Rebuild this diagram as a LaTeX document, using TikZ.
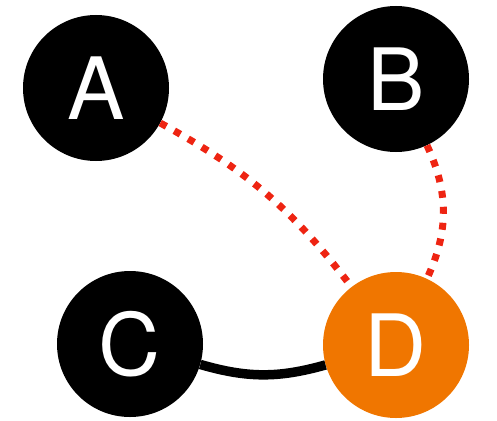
\documentclass[tikz,border=0pt]{standalone}
\usepackage{fontspec}
\setmainfont{TeX Gyre Heros}
\definecolor{edgered}{RGB}{238,36,18}
\definecolor{dorange}{RGB}{240,118,0}
\begin{document}
\begin{tikzpicture}[x=1pt,y=-1pt,
  vertex/.style={circle,fill=black,draw=none,inner sep=0pt,minimum size=146pt,
    text=white,font=\fontsize{86}{86}\selectfont},
  dotedge/.style={draw=edgered,line width=7pt,dash pattern=on 7pt off 9pt},
  solidedge/.style={draw=black,line width=9.5pt}]
\useasboundingbox (0,0) rectangle (497,420);
\node[vertex] (A) at (96,88) {A};
\node[vertex] (B) at (396,79) {B};
\node[vertex] (C) at (130,344) {C};
\node[vertex,fill=dorange] (D) at (396,345) {D};
\draw[dotedge] (A) to[bend left=12] (D);
\draw[dotedge] (B) to[bend left=25] (D);
\draw[solidedge] (C) to[bend right=16] (D);
\end{tikzpicture}
\end{document}
